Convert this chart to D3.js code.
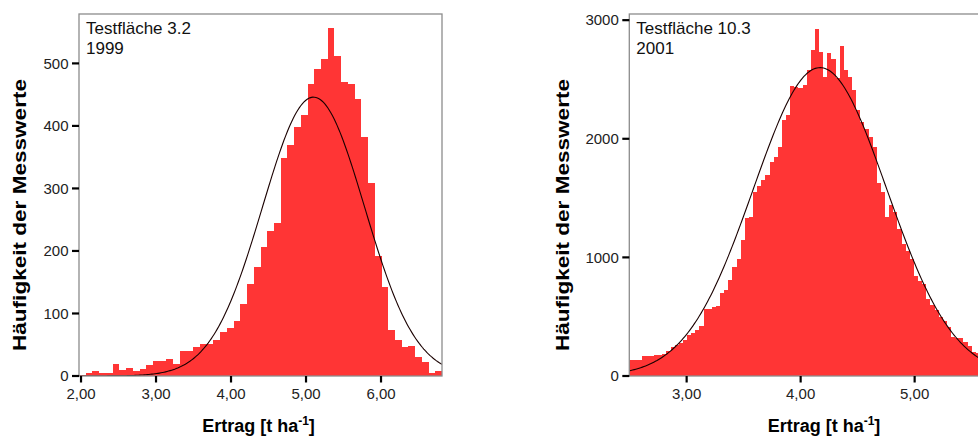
<!DOCTYPE html>
<html>
<head>
<meta charset="utf-8">
<script src="https://cdn.jsdelivr.net/npm/d3@7"></script>
<style>
	body { margin: 0; background: #fff; }
	svg { display: block; font-family: "Liberation Sans", Arial, sans-serif; }
</style>
</head>
<body>
<svg id="plot"></svg>
<script>
const WIDTH = 978;
const HEIGHT = 437;

// Testfläche 3.2 / 1999 - histogram counts, bins of equal width
const binStartA = 1.973;
const binWidthA = 0.08963;
const countsA = [
	2, 4, 8, 4, 5, 19, 10, 12, 8, 11,
	18, 24, 24, 27, 19, 40, 40, 46, 51, 51,
	57, 70, 77, 88, 115, 147, 174, 206, 232, 245,
	349, 369, 399, 417, 467, 491, 507, 556, 512, 470,
	467, 443, 383, 308, 192, 142, 73, 57, 47, 48,
	31, 22, 5, 8,
];
const xTicksA = [2, 3, 4, 5, 6];
const yTicksA = [0, 100, 200, 300, 400, 500];
const fitA = { mean: 5.1, sd: 0.68, peak: 446 };
const labelA = ["Testfläche 3.2", "1999"];

// Testfläche 10.3 / 2001
const binStartB = 2.497;
const binWidthB = 0.03618;
const countsB = [
	132, 132, 135, 169, 169, 170, 180, 180, 185, 208,
	245, 260, 278, 307, 343, 360, 385, 419, 565, 568,
	580, 588, 700, 728, 807, 919, 990, 1150, 1330, 1341,
	1551, 1600, 1650, 1692, 1804, 1847, 1931, 2162, 2198, 2443,
	2440, 2432, 2451, 2578, 2746, 2929, 2732, 2521, 2727, 2670,
	2516, 2780, 2578, 2521, 2415, 2240, 2142, 2080, 2015, 1931,
	1627, 1551, 1341, 1440, 1380, 1243, 1116, 1050, 990, 841,
	800, 773, 652, 600, 554, 498, 460, 413, 329, 324,
	324, 290, 250, 202, 190, 160, 140, 120,
];
const xTicksB = [3, 4, 5];
const yTicksB = [0, 1000, 2000, 3000];
const fitB = { mean: 4.17, sd: 0.585, peak: 2600 };
const labelB = ["Testfläche 10.3", "2001"];

const Y_TITLE = "Häufigkeit der Messwerte";

const plot = d3.select("#plot").attr("width", WIDTH).attr("height", HEIGHT);

const deFormat = d3.formatLocale({
	decimal: ",",
	thousands: ".",
	grouping: [3],
	currency: ["", " €"],
}).format(".2f");

const TOP = 14;
const BOTTOM = 376;
const BAR_COLOR = "#ff3535";
const FRAME_COLOR = "#8c8c8c";

function drawPanel({ id, left, width, binStart, binWidth, counts, xMin, xMax, yMax,
	xTicks, yTicks, fit, label, yTitleX, xTitleX }) {
	const g = plot.append("g").attr("id", id);
	const x = d3.scaleLinear([xMin, xMax], [left, left + width]);
	const y = d3.scaleLinear([0, yMax], [BOTTOM, TOP]);
	const edge = i => Math.round(x(binStart + i * binWidth));

	g.append("clipPath")
		.attr("id", `clip-${id}`)
		.append("rect")
		.attr("x", left)
		.attr("y", TOP)
		.attr("width", width)
		.attr("height", BOTTOM - TOP);

	const inner = g.append("g").attr("clip-path", `url(#clip-${id})`);

	// bars snapped to whole pixels so neighbours meet without seams
	inner.selectAll("rect.bar")
		.data(counts)
		.join("rect")
		.attr("class", "bar")
		.attr("x", (d, i) => edge(i))
		.attr("width", (d, i) => edge(i + 1) - edge(i))
		.attr("y", d => Math.round(y(d)))
		.attr("height", d => Math.round(y(0)) - Math.round(y(d)))
		.attr("fill", BAR_COLOR)
		.attr("shape-rendering", "crispEdges");

	// fitted normal curve
	const nPoints = 240;
	const dx = (xMax - xMin) / (nPoints - 1);
	const curve = d3.range(nPoints).map(i => {
		const v = xMin + i * dx;
		const z = (v - fit.mean) / fit.sd;
		return [x(v), y(fit.peak * Math.exp(-0.5 * z * z))];
	});
	inner.append("path")
		.attr("d", d3.line()(curve))
		.attr("fill", "none")
		.attr("stroke", "#1a0000")
		.attr("stroke-width", 1.1);

	// frame
	g.append("rect")
		.attr("x", left)
		.attr("y", TOP)
		.attr("width", width)
		.attr("height", BOTTOM - TOP)
		.attr("fill", "none")
		.attr("stroke", FRAME_COLOR)
		.attr("stroke-width", 1.3);

	// y ticks
	g.selectAll("line.ytick")
		.data(yTicks)
		.join("line")
		.attr("class", "ytick")
		.attr("x1", left - 7)
		.attr("x2", left)
		.attr("y1", d => y(d))
		.attr("y2", d => y(d))
		.attr("stroke", "#000")
		.attr("stroke-width", 2.2);
	g.selectAll("text.ylabel")
		.data(yTicks)
		.join("text")
		.attr("class", "ylabel")
		.attr("x", left - 10.5)
		.attr("y", d => y(d))
		.attr("dy", "0.35em")
		.attr("text-anchor", "end")
		.attr("font-size", 15)
		.attr("fill", "#222")
		.text(d => d);

	// x ticks
	g.selectAll("line.xtick")
		.data(xTicks)
		.join("line")
		.attr("class", "xtick")
		.attr("x1", d => x(d))
		.attr("x2", d => x(d))
		.attr("y1", BOTTOM)
		.attr("y2", BOTTOM + 6.5)
		.attr("stroke", "#000")
		.attr("stroke-width", 2.2);
	g.selectAll("text.xlabel")
		.data(xTicks)
		.join("text")
		.attr("class", "xlabel")
		.attr("x", d => x(d))
		.attr("y", BOTTOM + 23)
		.attr("text-anchor", "middle")
		.attr("font-size", 15)
		.attr("fill", "#222")
		.text(d => deFormat(d));

	// annotation
	g.selectAll("text.note")
		.data(label)
		.join("text")
		.attr("class", "note")
		.attr("x", left + 7)
		.attr("y", (d, i) => 34 + i * 20)
		.attr("font-size", 17)
		.attr("fill", "#111")
		.text(d => d);

	// axis titles
	g.append("text")
		.attr("transform", `translate(${yTitleX},215) rotate(-90)`)
		.attr("dy", "0.35em")
		.attr("text-anchor", "middle")
		.attr("font-size", 17.5)
		.attr("font-weight", "bold")
		.attr("textLength", 272)
		.attr("lengthAdjust", "spacingAndGlyphs")
		.text(Y_TITLE);

	const xt = g.append("text")
		.attr("x", xTitleX)
		.attr("y", 432)
		.attr("text-anchor", "middle")
		.attr("font-size", 18)
		.attr("font-weight", "bold");
	xt.append("tspan").text("Ertrag [t ha");
	xt.append("tspan").attr("dy", -7).attr("font-size", 12).text("-1");
	xt.append("tspan").attr("dy", 7).text("]");
}

drawPanel({
	id: "a",
	left: 79,
	width: 363,
	binStart: binStartA,
	binWidth: binWidthA,
	counts: countsA,
	xMin: 1.973,
	xMax: 6.813,
	yMax: 579,
	xTicks: xTicksA,
	yTicks: yTicksA,
	fit: fitA,
	label: labelA,
	yTitleX: 20,
	xTitleX: 258.5,
});

drawPanel({
	id: "b",
	left: 629.3,
	width: 390,
	binStart: binStartB,
	binWidth: binWidthB,
	counts: countsB,
	xMin: 2.497,
	xMax: 2.497 + 390 / 114,
	yMax: 3052,
	xTicks: xTicksB,
	yTicks: yTicksB,
	fit: fitB,
	label: labelB,
	yTitleX: 563,
	xTitleX: 824,
});
</script>
</body>
</html>
